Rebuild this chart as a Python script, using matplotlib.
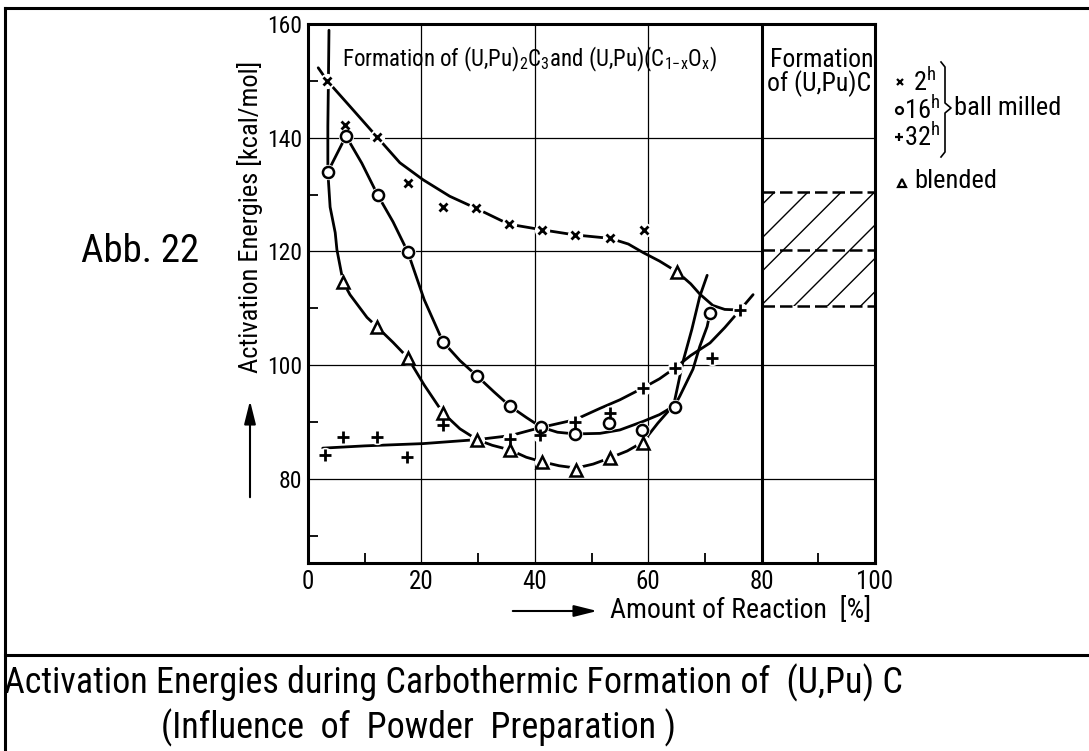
import matplotlib
matplotlib.use('Agg')
import matplotlib.pyplot as plt
from matplotlib import font_manager
from matplotlib.lines import Line2D
from matplotlib.patches import Rectangle, FancyArrowPatch

# measured activation energies [kcal/mol] vs. amount of reaction [%]
x_2h = [3.4, 6.5, 12.2, 17.6, 23.8, 29.6, 35.4, 41.3, 47.1, 53.3, 59.3]
y_2h = [150.0, 142.2, 140.1, 132.0, 127.8, 127.6, 124.8, 123.8, 122.9, 122.4, 123.8]

x_16h = [3.5, 6.7, 12.3, 17.6, 23.8, 29.8, 35.6, 41.1, 47.1, 53.1, 58.9, 64.7, 70.9]
y_16h = [134.0, 140.3, 129.9, 119.9, 104.1, 98.1, 92.8, 89.1, 87.9, 89.8, 88.6, 92.7, 109.2]

x_32h = [3.0, 6.2, 12.2, 17.5, 23.8, 35.7, 40.9, 47.1, 53.3, 59.1, 64.7, 71.3, 76.2]
y_32h = [84.2, 87.4, 87.4, 83.9, 89.5, 87.0, 87.7, 90.0, 91.6, 96.0, 99.5, 101.3, 109.7]

x_bl = [6.2, 12.2, 17.6, 23.8, 29.8, 35.6, 41.3, 47.3, 53.3, 59.1, 65.1]
y_bl = [114.6, 106.7, 101.3, 91.6, 86.9, 85.1, 83.0, 81.6, 83.7, 86.3, 116.4]

# hand-drawn trend curves
cx_2h = [1.8, 3.4, 7.5, 12.2, 16.2, 20.3, 25.0, 29.6, 35.4, 41.3, 47.1, 53.3,
         56.5, 59.1, 62.0, 65.1, 67.5, 69.1, 71.4, 73.5, 76.2]
cy_2h = [152.3, 150.0, 145.4, 140.1, 135.6, 132.6, 129.7, 127.6, 124.8, 123.8, 122.9, 122.3,
         121.3, 119.8, 118.3, 116.4, 114.3, 112.5, 110.5, 109.8, 109.7]

cx_16h = [3.5, 6.7, 9.5, 12.3, 15.0, 17.6, 20.5, 23.8, 26.8, 29.8, 32.8, 35.6, 38.5,
          41.1, 44.0, 47.1, 51.5, 55.0, 59.1, 62.0, 64.7, 65.6, 67.9, 69.1, 70.4, 70.9]
cy_16h = [134.0, 140.3, 135.5, 129.9, 125.2, 119.9, 111.5, 104.1, 100.8, 98.1, 95.3, 92.8, 90.8,
          89.1, 88.2, 87.9, 88.0, 88.6, 90.1, 91.3, 92.9, 94.6, 99.3, 103.3, 106.8, 109.2]

cx_32h = [2.6, 10.0, 20.3, 29.8, 35.7, 40.9, 47.1, 51.5, 55.0, 59.1, 62.0, 64.7,
          67.5, 70.9, 73.5, 76.2, 78.5]
cy_32h = [85.4, 85.8, 86.2, 86.9, 87.6, 89.0, 90.4, 92.4, 93.9, 96.0, 97.6, 99.5,
          101.7, 103.9, 106.6, 109.7, 112.4]

cx_bl = [3.7, 3.6, 3.5, 3.5, 3.9, 4.8, 5.1, 6.2, 7.4, 10.4, 12.2, 15.0, 17.6, 20.5,
         23.8, 26.8, 29.8, 32.5, 35.6, 38.5, 41.3, 44.3, 47.3, 50.3, 53.3, 56.3,
         59.1, 61.7, 64.5, 66.1, 67.7, 69.1, 70.4]
cy_bl = [158.9, 150.0, 142.0, 134.0, 127.8, 123.3, 120.3, 114.6, 112.4, 108.4, 106.7, 104.0, 101.3, 96.5,
         91.6, 88.8, 86.9, 85.9, 85.1, 83.8, 83.0, 82.3, 81.9, 82.6, 83.7, 84.9,
         86.5, 89.8, 93.0, 100.5, 106.3, 112.1, 115.8]

# UC formation band
band_lo, band_mid, band_hi = 110.4, 120.2, 130.4

x_ticks = [0, 20, 40, 60, 80, 100]
y_ticks = [80, 100, 120, 140, 160]

names = {f.name for f in font_manager.fontManager.ttflist}
FONT = next((n for n in ('Liberation Sans Narrow', 'Roboto Condensed', 'DejaVu Sans')
             if n in names), 'DejaVu Sans')
plt.rcParams['font.family'] = FONT
plt.rcParams['font.stretch'] = 'condensed'
plt.rcParams['mathtext.fontset'] = 'custom'
plt.rcParams['mathtext.rm'] = FONT
plt.rcParams['mathtext.it'] = FONT
plt.rcParams['hatch.linewidth'] = 1.0

W, H = 1089, 751
fig = plt.figure(figsize=(W / 100, H / 100), dpi=100)

def fx(px):
    return px / W

def fy(py):
    return 1 - py / H

ax = fig.add_axes([fx(308), fy(563), fx(875) - fx(308), fy(24) - fy(563)])
ax.set_xlim(0, 100)
ax.set_ylim(65.2, 160)

for s in ax.spines.values():
    s.set_linewidth(2.2)

ax.set_xticks(x_ticks)
ax.set_yticks(y_ticks)
ax.set_xticks([10, 30, 50, 70, 90], minor=True)
ax.set_yticks([70, 90, 110, 130, 150], minor=True)
ax.tick_params(which='major', length=0, labelsize=18, pad=5)
ax.tick_params(axis='y', which='major', labelsize=17, pad=4)
ax.tick_params(which='minor', direction='in', length=7, width=1.3)

# grid
for gx in [20, 40, 60]:
    ax.axvline(gx, color='black', lw=0.9, zorder=1)
ax.axvline(80, color='black', lw=2.2, zorder=1)
for gy in [80, 100, 140]:
    ax.axhline(gy, color='black', lw=0.9, zorder=1)
ax.plot([0, 80], [120, 120], color='black', lw=0.9, zorder=1)

# hatched band for (U,Pu)C formation
ax.add_patch(Rectangle((80, band_lo), 20, band_hi - band_lo, facecolor='none',
                       edgecolor='black', hatch='/', lw=0, zorder=1))
for by in [band_lo, band_mid, band_hi]:
    ax.plot([80, 100], [by, by], color='black', lw=1.8, ls=(0, (5, 2)), zorder=2)

# curves
for cx, cy in [(cx_2h, cy_2h), (cx_16h, cy_16h), (cx_32h, cy_32h), (cx_bl, cy_bl)]:
    ax.plot(cx, cy, color='black', lw=2.0, solid_capstyle='round', zorder=2)

# white halos break the curves around the symbols
for xs, ys in [(x_2h, y_2h), (x_16h, y_16h), (x_32h, y_32h), (x_bl, y_bl)]:
    ax.plot(xs, ys, ls='none', marker='o', ms=11, mfc='white', mec='none', zorder=3)

ax.plot(x_2h, y_2h, ls='none', marker='x', ms=6, mew=2.0, color='black', zorder=4)
ax.plot(x_16h, y_16h, ls='none', marker='o', ms=8, mew=1.8, mfc='white', mec='black', zorder=4)
ax.plot(x_32h, y_32h, ls='none', marker='+', ms=8, mew=2.0, color='black', zorder=4)
ax.plot(x_bl, y_bl, ls='none', marker='^', ms=8.5, mew=1.8, mfc='white', mec='black', zorder=4)

ax.text(6.0, 153.8, r'Formation of (U,Pu)$_2$C$_3$and (U,Pu)(C$_{1\mathrm{-x}}$O$_{\mathrm{x}}$)',
        fontsize=16.5, ha='left', va='center')
ax.text(99.7, 153.7, 'Formation', fontsize=18.5, ha='right', va='center')
ax.text(99.4, 149.5, 'of (U,Pu)C', fontsize=18.5, ha='right', va='center')

# legend at the right
fig.add_artist(Line2D([fx(900)], [fy(82)], marker='x', ms=4.5, mew=1.6, color='black'))
fig.add_artist(Line2D([fx(899)], [fy(110)], marker='o', ms=5, mew=1.6, mfc='white', color='black'))
fig.add_artist(Line2D([fx(899)], [fy(137)], marker='+', ms=6, mew=1.6, color='black'))
fig.add_artist(Line2D([fx(902)], [fy(183)], marker='^', ms=6, mew=1.6, mfc='white', color='black'))
fig.text(fx(913), fy(82), r'2$^{\mathrm{h}}$', fontsize=19, va='center')
fig.text(fx(904), fy(110), r'16$^{\mathrm{h}}$', fontsize=19, va='center')
fig.text(fx(904), fy(137), r'32$^{\mathrm{h}}$', fontsize=19, va='center')
fig.text(fx(954), fy(108), 'ball milled', fontsize=19, va='center')
fig.text(fx(914), fy(181), 'blended', fontsize=19, va='center')
brace_x = [941, 945, 945, 951, 945, 945, 941]
brace_y = [62, 67, 103, 108, 113, 152, 157]
fig.add_artist(Line2D([fx(v) for v in brace_x], [fy(v) for v in brace_y], color='black', lw=1.2))

fig.text(fx(140), fy(252), 'Abb. 22', fontsize=28, ha='center', va='center')

# axis labels with arrows
fig.text(fx(250), fy(217), 'Activation Energies [kcal/mol]', fontsize=19,
         rotation=90, ha='center', va='center')
fig.add_artist(FancyArrowPatch(
    (fx(250), fy(500)), (fx(250), fy(398)), transform=fig.transFigure,
    arrowstyle='-|>,head_length=14,head_width=3.5', mutation_scale=1, lw=1.5, color='black'))
fig.text(fx(610), fy(611), 'Amount of Reaction  [%]', fontsize=20, ha='left', va='center')
fig.add_artist(FancyArrowPatch(
    (fx(510), fy(611)), (fx(600), fy(611)), transform=fig.transFigure,
    arrowstyle='-|>,head_length=14,head_width=3.5', mutation_scale=1, lw=1.5, color='black'))

# frame and caption
fig.add_artist(Line2D([fx(5), 1], [fy(8), fy(8)], color='black', lw=2.2))
fig.add_artist(Line2D([fx(5), fx(5)], [fy(8), 0], color='black', lw=2.2))
fig.add_artist(Line2D([fx(5), 1], [fy(655), fy(655)], color='black', lw=2.2))
fig.text(fx(4), fy(683), 'Activation Energies during Carbothermic Formation of  (U,Pu) C',
         fontsize=26, ha='left', va='center')
fig.text(fx(161), fy(728), '(Influence  of  Powder  Preparation )',
         fontsize=26, ha='left', va='center')

fig.savefig('out.png', dpi=100)
